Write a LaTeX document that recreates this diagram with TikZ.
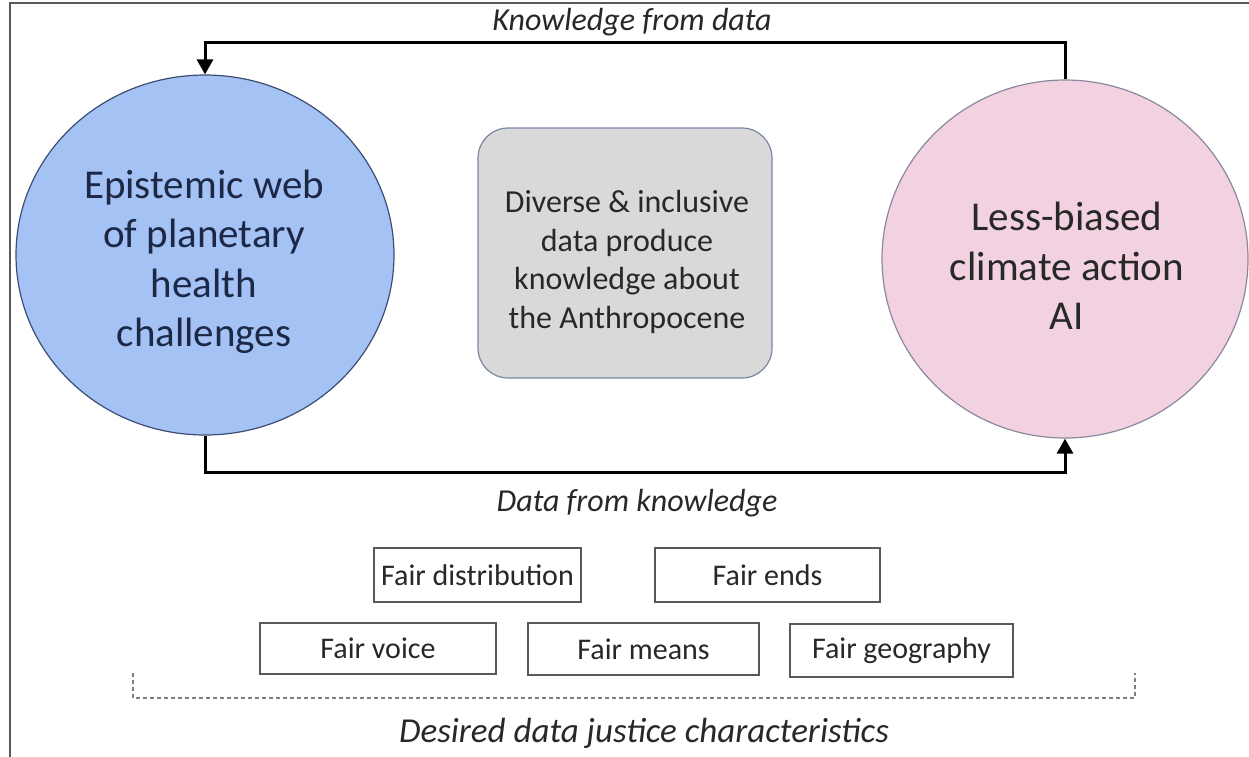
\documentclass[tikz,border=0pt]{standalone}
\usepackage{fontspec}
\setmainfont{Carlito}
\usetikzlibrary{arrows.meta,shapes.geometric}
\definecolor{leftfill}{RGB}{164,194,244}
\definecolor{leftdraw}{RGB}{60,78,115}
\definecolor{rightfill}{RGB}{242,210,224}
\definecolor{rightdraw}{RGB}{140,135,160}
\definecolor{boxfill}{RGB}{217,217,217}
\definecolor{boxdraw}{RGB}{120,135,160}
\definecolor{txt}{RGB}{40,40,40}
\definecolor{navy}{RGB}{28,40,70}
\tikzset{
  x=1pt, y=-1pt,
  bigcirc/.style={ellipse, inner sep=0pt, line width=1.2pt},
  circtext/.style={align=center, inner sep=0pt, font=\fontsize{41}{49.5}\selectfont},
  centerbox/.style={draw=boxdraw, fill=boxfill, line width=1.2pt, rounded corners=30pt,
    inner sep=0pt, minimum width=294pt, minimum height=250pt},
  boxtext/.style={align=center, inner sep=0pt, text=txt, font=\fontsize{32}{38.5}\selectfont},
  fairbox/.style={draw=black!65, line width=1.2pt, fill=white, inner sep=0pt,
    text=txt, font=\fontsize{30}{36}\selectfont},
  flow/.style={line width=3pt, black, -{Triangle[width=16pt,length=15pt]}},
  caption/.style={text=txt, font=\fontsize{32}{38}\selectfont\itshape},
  bracket/.style={draw=black!50, line width=2pt, dash pattern=on 4pt off 3pt}
}
\begin{document}
\begin{tikzpicture}
\useasboundingbox (0,0) rectangle (1249,756);
\draw[black!65, line width=1.5pt] (10,760) -- (10,3) -- (1255,3);

\node[bigcirc, draw=leftdraw, fill=leftfill, minimum width=378pt, minimum height=360pt]
  (L) at (205,255) {};
\node[circtext, text=navy] (Lt) at (204,262) {Epistemic web\\of planetary\\health\\challenges};
\node[bigcirc, draw=rightdraw, fill=rightfill, minimum width=366pt, minimum height=358pt]
  (R) at (1065,259) {};
\node[circtext, text=txt] (Rt) at (1067,266) {Less-biased\\climate action\\AI};
\node[centerbox] (C) at (625,253) {};
\node[boxtext] (Ct) at (627,262) {Diverse \& inclusive\\data produce\\knowledge about\\the Anthropocene};

\coordinate (topline) at (637,42);
\coordinate (botline) at (637,472);
\draw[flow] (R.north) |- (topline) -| (L.north);
\draw[flow] (L.south) |- (botline) -| (R.south);

\node[caption] (kfd) at (632,22) {Knowledge from data};
\node[caption] (dfk) at (637,503) {Data from knowledge};

\node[fairbox, minimum width=207pt, minimum height=54pt] (fd) at (477.5,575) {Fair distribution};
\node[fairbox, minimum width=225pt, minimum height=54pt] (fe) at (767.5,575) {Fair ends};
\node[fairbox, minimum width=236pt, minimum height=51pt] (fv) at (378,648.5) {Fair voice};
\node[fairbox, minimum width=231pt, minimum height=52pt] (fm) at (643.5,649) {Fair means};
\node[fairbox, minimum width=223pt, minimum height=53pt] (fg) at (901.5,650.5) {Fair geography};

\coordinate (bl) at (133,673);
\coordinate (br) at (1135,673);
\draw[bracket] (bl) -- (133,698) -- (1135,698) -- (br);

\node[caption, font=\fontsize{35}{40}\selectfont\itshape] (djc) at (644,733) {Desired data justice characteristics};
\end{tikzpicture}
\end{document}
